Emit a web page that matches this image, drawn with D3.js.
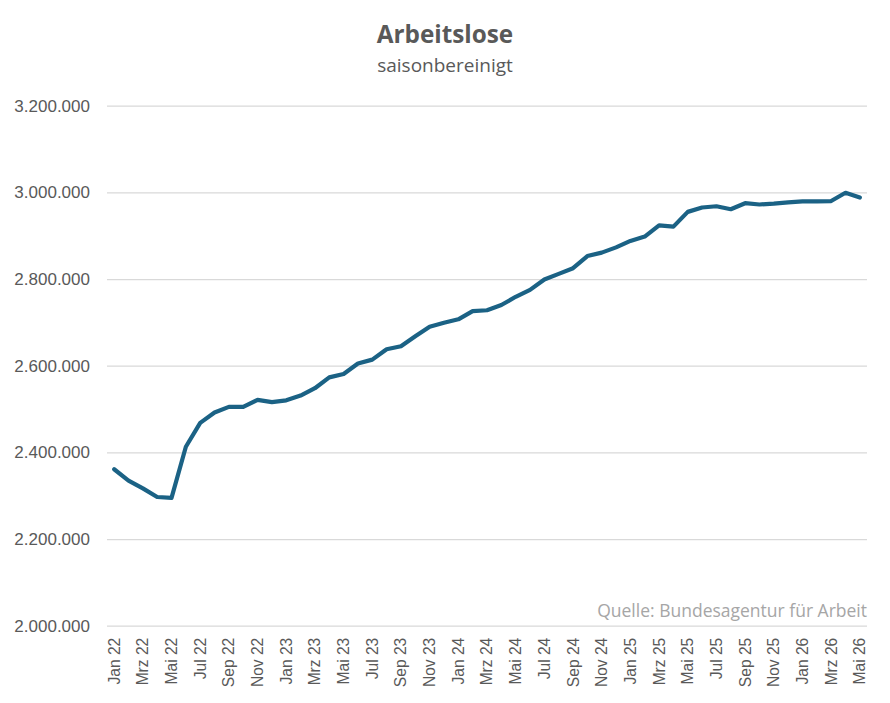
<!DOCTYPE html>
<html><head><meta charset="utf-8">
<script src="https://cdn.jsdelivr.net/npm/d3@7"></script>
<style>body{margin:0;background:#fff}svg{display:block}</style>
</head><body>
<svg id="c" width="890" height="703"></svg>
<script>
const months = ["Jan","Feb","Mrz","Apr","Mai","Jun","Jul","Aug","Sep","Okt","Nov","Dez"];
const categories = [];
for (let y = 22; y <= 26; y++) for (let m = 0; m < 12; m++) { if (y === 26 && m > 4) break; categories.push(months[m] + " " + y); }
const values = [
  2361000, 2335000, 2317000, 2297000, 2295000, 2413000, 2468000, 2492000, 2505000, 2505000, 2521000, 2516000,
  2520000, 2531000, 2548000, 2573000, 2581000, 2605000, 2614000, 2638000, 2645000, 2668000, 2690000, 2699000,
  2707000, 2726000, 2728000, 2740000, 2759000, 2775000, 2799000, 2812000, 2825000, 2853000, 2861000, 2873000,
  2888000, 2898000, 2924000, 2921000, 2955000, 2965000, 2968000, 2961000, 2975000, 2972000, 2974000, 2977000,
  2979000, 2979000, 2980000, 2999000, 2988000
];
const yTicks = [2000000, 2200000, 2400000, 2600000, 2800000, 3000000, 3200000];
const title = "Arbeitslose", subtitle = "saisonbereinigt", source = "Quelle: Bundesagentur für Arbeit";

const svg = d3.select("#c");
const L = 107, R = 867, T = 105.7, B = 625.7;
const x = d3.scaleBand().domain(categories).range([L, R]);
const y = d3.scaleLinear().domain([2000000, 3200000]).range([B, T]);
const fmt = v => d3.format(",")(v).replace(/,/g, ".");
const font = "'Liberation Sans', Arial, sans-serif";
const tfont = "'Open Sans', 'Noto Sans', sans-serif";

// grid
const ya = svg.append("g").attr("transform", `translate(${L},0)`)
  .call(d3.axisLeft(y).tickValues(yTicks).tickSize(-(R - L)).tickPadding(17).tickFormat(fmt));
ya.select(".domain").remove();
ya.selectAll(".tick line").attr("stroke", "#d9d9d9").attr("stroke-width", 1.3);
ya.selectAll(".tick text").attr("fill", "#595959").attr("font-size", 17).attr("font-family", font);

// x axis
const xa = svg.append("g").attr("transform", `translate(0,${B})`)
  .call(d3.axisBottom(x).tickValues(categories.filter((d, i) => i % 2 === 0)).tickSize(0));
xa.select(".domain").remove();
xa.selectAll(".tick text").attr("fill", "#595959").attr("font-size", 15.6).attr("font-family", font)
  .attr("transform", "rotate(-90)").attr("text-anchor", "end").attr("x", -12).attr("y", 0).attr("dy", "0.35em");

// source
svg.append("text").attr("x", R).attr("y", 617).attr("text-anchor", "end")
  .attr("font-family", tfont).attr("font-size", 17.5).attr("fill", "#a6a6a6").text(source);

// line
svg.append("path").datum(values)
  .attr("fill", "none").attr("stroke", "#1b6285").attr("stroke-width", 4.2)
  .attr("stroke-linejoin", "round").attr("stroke-linecap", "round")
  .attr("d", d3.line().x((d, i) => x(categories[i]) + x.bandwidth() / 2).y(d => y(d)));

// titles
svg.append("text").attr("x", 445).attr("y", 43).attr("text-anchor", "middle")
  .attr("font-family", tfont).attr("font-weight", "bold").attr("font-size", 24.3).attr("fill", "#595959").text(title);
svg.append("text").attr("x", 445).attr("y", 72).attr("text-anchor", "middle")
  .attr("font-family", tfont).attr("font-size", 19).attr("fill", "#595959").text(subtitle);
</script>
</body></html>
